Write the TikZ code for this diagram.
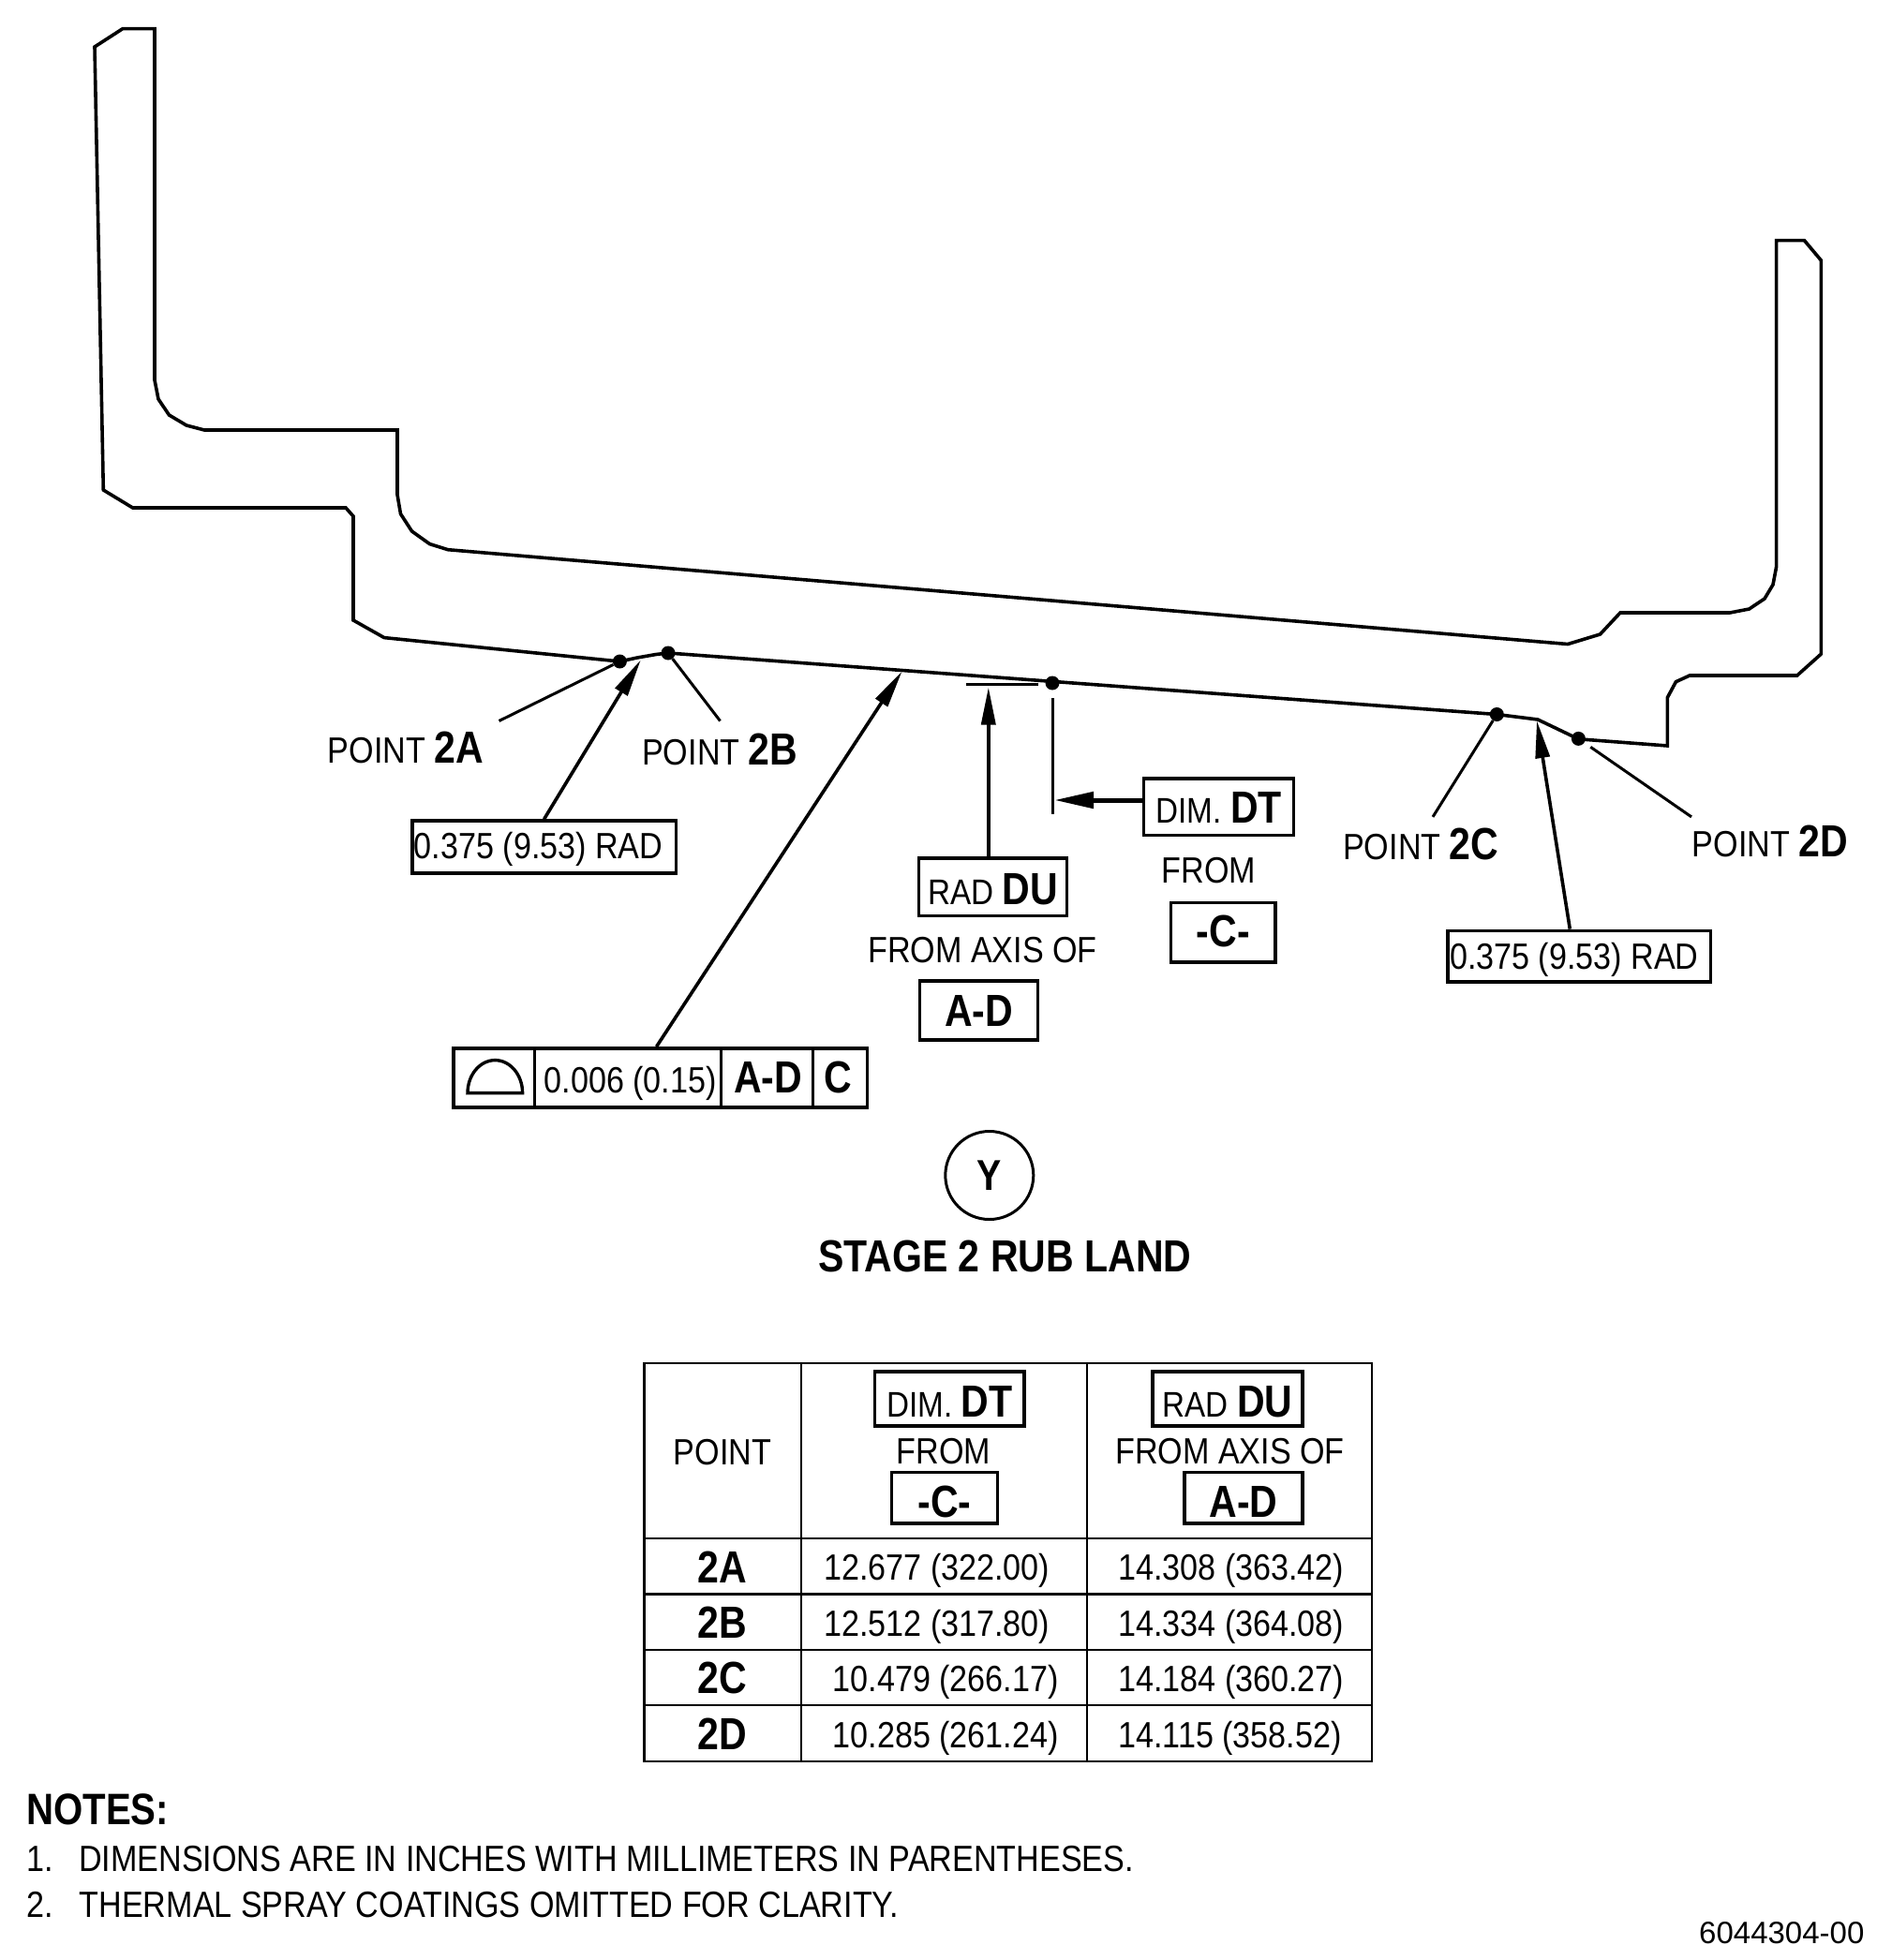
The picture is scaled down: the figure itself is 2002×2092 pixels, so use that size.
\documentclass[tikz,border=0pt]{standalone}
\usepackage{fontspec}
\setmainfont{Liberation Sans}[UprightFeatures={FakeStretch=0.875},BoldFeatures={FakeStretch=0.855}]
\newfontfamily\plainfont{Liberation Sans}
\usetikzlibrary{arrows.meta}

\newcommand{\bld}[1]{{\fontsize{48}{50}\selectfont\bfseries #1}}
\newcommand{\lbl}{\fontsize{38}{40}\selectfont}

\tikzset{
  outline/.style={line width=3.6pt,line join=miter},
  leader/.style={line width=3pt},
  callout/.style={line width=3.6pt,-{Triangle[length=40pt,width=15pt]}},
  ptdot/.style={circle,fill=black,inner sep=0pt,minimum size=15pt},
  txt/.style={inner sep=0pt,anchor=base west,font=\fontsize{39}{45}\selectfont},
  bigtxt/.style={txt,font=\fontsize{48}{50}\selectfont\bfseries},
  boxed/.style={draw,line width=3.4pt,inner sep=0pt,anchor=center,font=\fontsize{39}{45}\selectfont,text depth=0pt},
  rowline/.style={line width=2.8pt}
}

\begin{document}
\begin{tikzpicture}[x=1pt,y=-1pt]

\useasboundingbox (0,0) rectangle (2002,2092);

% Part outline
\draw[outline] (101,50) -- (131,30.6) -- (165,30.6) -- (165,405.6) -- (169,426) -- (180.5,443)
  -- (199,454) -- (218,459) -- (424,459) -- (424,528) -- (427.5,548.5) -- (439.5,567)
  -- (458.5,580.6) -- (478,586.7) -- (1673,687.5) -- (1707.5,677) -- (1729,654) -- (1846,654)
  -- (1866.6,650) -- (1883,639) -- (1892,624) -- (1895.6,605) -- (1895.6,256.7) -- (1925.5,256.7)
  -- (1943.4,278) -- (1943.4,698) -- (1917.7,721) -- (1803,721) -- (1788.4,727.7) -- (1779.3,744.6)
  -- (1779.3,796) -- (1684.4,788.8) -- (1641,768) -- (1597.3,762.5) -- (713,697) -- (700,698.5)
  -- (680,702) -- (661.4,706) -- (410,680.6) -- (377,662) -- (377,551) -- (369,542)
  -- (141.6,542) -- (110.3,523) -- cycle;

% Points on the land
\node[ptdot] (dotA) at (661.4,706) {};
\node[ptdot] (dotB) at (713,697) {};
\node[ptdot] (dotDT) at (1123,729) {};
\node[ptdot] (dotC) at (1597.3,762.5) {};
\node[ptdot] (dotD) at (1684.4,788.4) {};

% Point labels
\node[txt] (labelA) at (349.5,814) {POINT \bld{2A}};
\node[txt] (labelB) at (685,816) {POINT \bld{2B}};
\node[txt] (labelC) at (1433,917.4) {POINT \bld{2C}};
\node[txt] (labelD) at (1805.5,914.3) {POINT \bld{2D}};

\coordinate (endA) at (532.5,769.5);
\coordinate (endB) at (768.5,769.5);
\coordinate (endC) at (1529,871.9);
\coordinate (endD) at (1805,871.9);
\draw[leader] (dotA) -- (endA);
\draw[leader] (dotB) -- (endB);
\draw[leader] (dotC) -- (endC);
\draw[leader,shorten <=8pt] (dotD) -- (endD);

% Callout boxes
\node[boxed,minimum width=281.6pt,minimum height=55.8pt,text height=25.4pt] (radLeft) at (580.6,903.9) {0.375 (9.53) RAD\hspace*{12pt}};
\node[boxed,minimum width=280.6pt,minimum height=54.5pt,text height=27pt] (radRight) at (1685.3,1020.55) {0.375 (9.53) RAD\hspace*{11pt}};
\node[boxed,minimum width=158pt,minimum height=61.7pt,text height=37.5pt] (boxDU) at (1059.6,946.85) {\lbl RAD \bld{DU}};
\node[boxed,minimum width=160pt,minimum height=60.7pt,text height=33.8pt] (boxDT) at (1300.7,861.15) {\lbl DIM. \bld{DT}};
\node[boxed,minimum width=126.3pt,minimum height=62.9pt,text height=33.4pt] (boxAD) at (1044.5,1078.35) {\bld{A-D}};
\node[boxed,minimum width=111.5pt,minimum height=63.4pt,text height=29.8pt] (boxC) at (1305.2,995.1) {\bld{-C-}};

\node[txt] (fromAxis) at (926,1027) {FROM AXIS OF};
\node[txt] (fromC) at (1239.5,942.4) {FROM};

% Feature control frame
\node[draw,line width=3.4pt,inner sep=0pt,minimum width=441.5pt,minimum height=63pt] (frame) at (704.75,1150.3) {};
\foreach \x in {570.4,769.4,867.3}
{
     \draw[line width=3.4pt] (\x,1118.8) -- (\x,1181.8);
}
\draw[line width=3.4pt] (499,1166.6) arc[start angle=180,end angle=360,x radius=29.3,y radius=35] -- cycle;
\node[txt] (frameTol) at (580.5,1166.6) {0.006 (0.15)};
\node[bigtxt] (frameAD) at (783,1166.6) {A-D};
\node[bigtxt] (frameC) at (879,1166.6) {C};

% Callout arrows
\coordinate (tipLeft) at (683.7,704.5);
\coordinate (tipFrame) at (962.5,716.6);
\coordinate (tipDU) at (1054.8,733.5);
\coordinate (tipDT) at (1125,854);
\coordinate (tipRight) at (1640,769.2);
\draw[callout] (radLeft.north) -- (tipLeft);
\draw[callout] ([xshift=-4.2pt]frame.north) -- (tipFrame);
\draw[callout] ([xshift=-4.8pt]boxDU.north) -- (tipDU);
\draw[callout,line width=5pt,-{Triangle[length=42pt,width=17pt]}] (boxDT.west |- tipDT) -- (tipDT);
\draw[callout] ([xshift=-10pt]radRight.north) -- (tipRight);

% Extension lines
\draw[leader] (1030.5,730.8) -- (1107.5,730.8);
\draw[leader] (1123.5,745) -- (1123.5,868.7);

% View label
\node[draw,circle,line width=3pt,minimum size=94pt,inner sep=0pt,font=\fontsize{46}{50}\selectfont\bfseries] (viewY) at (1055.8,1254.5) {Y};
\node[bigtxt] (viewTitle) at (873,1357) {STAGE 2 RUB LAND};

% Table
\draw[rowline] (687.2,1455) rectangle (1464,1880);
\draw[rowline] (855,1455) -- (855,1880);
\draw[rowline] (1160,1455) -- (1160,1880);
\foreach \y in {1642,1701.7,1761,1820}
{
     \draw[rowline] (687.2,\y) -- (1464,\y);
}

\node[txt] (headPoint) at (718.5,1563.3) {POINT};
\node[boxed,minimum width=159.5pt,minimum height=58pt,text height=39.4pt] (headDT) at (1013.25,1493) {\lbl DIM. \bld{DT}};
\node[boxed,minimum width=160pt,minimum height=58pt,text height=39.4pt] (headDU) at (1310,1493) {\lbl RAD \bld{DU}};
\node[txt] (headFrom) at (956.5,1562) {FROM};
\node[txt] (headAxis) at (1190,1562) {FROM AXIS OF};
\node[boxed,minimum width=112.5pt,minimum height=54.3pt,text height=40.3pt] (headC) at (1008,1598.85) {\bld{-C-}};
\node[boxed,minimum width=126pt,minimum height=54.3pt,text height=40.3pt] (headAD) at (1327,1598.85) {\bld{A-D}};

\foreach \p/\yp/\yv/\xv/\dt/\du in {
  A/1689/1686.7/879/12.677 (322.00)/14.308 (363.42),
  B/1748/1746/879/12.512 (317.80)/14.334 (364.08),
  C/1807.7/1805/888.5/10.479 (266.17)/14.184 (360.27),
  D/1867.3/1865.7/888.5/10.285 (261.24)/14.115 (358.52)}
{
     \node[bigtxt] (row\p) at (744.5,\yp) {2\p};
     \node[txt] (dt\p) at (\xv,\yv) {\dt};
     \node[txt] (du\p) at (1193,\yv) {\du};
}

% Notes
\node[bigtxt,font=\fontsize{47}{50}\selectfont\bfseries] (notesHead) at (28,1947.7) {NOTES:};
\node[txt] (noteOne) at (28,1997.3) {1.};
\node[txt] (noteOneText) at (84,1997.3) {DIMENSIONS ARE IN INCHES WITH MILLIMETERS IN PARENTHESES.};
\node[txt] (noteTwo) at (28,2046.7) {2.};
\node[txt] (noteTwoText) at (84.5,2046.7) {THERMAL SPRAY COATINGS OMITTED FOR CLARITY.};
\node[txt,font=\plainfont\fontsize{33}{38}\selectfont] (figNumber) at (1813,2074.3) {6044304-00};

\end{tikzpicture}
\end{document}
